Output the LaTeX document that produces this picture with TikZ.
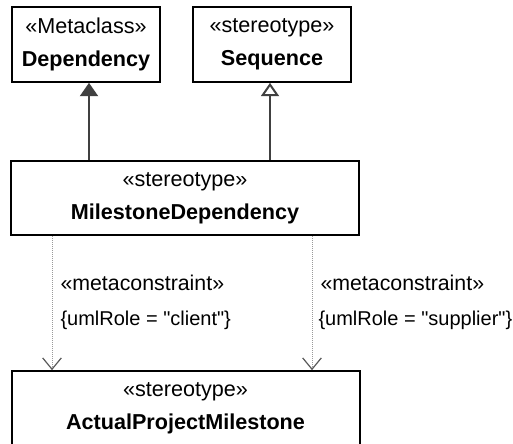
\documentclass[tikz,border=0pt]{standalone}
\usepackage{fontspec}
\setmainfont{Liberation Sans}
\usetikzlibrary{arrows.meta, positioning}

\begin{document}
\begin{tikzpicture}[
    x=0.75pt, y=-0.75pt,
    % Style definitions
    stereo/.style={rectangle, draw=black, line width=1.5pt, fill=white, inner sep=0pt,
                   minimum height=56pt, align=center, font=\fontsize{16.2}{24.75}\selectfont},
    ext/.style={draw=black!75, line width=1.5pt, -{Triangle[length=10pt, width=13.5pt]}},
    gen/.style={draw=black!75, line width=1.5pt, -{Triangle[open, length=10pt, width=13.5pt, fill=white]}},
    meta/.style={draw=black!40, line width=0.75pt, dash pattern=on 0.75pt off 0.75pt,
                 -{Straight Barb[length=8.5pt, width=14pt, line width=0.9pt, color=black!65]}},
    cstr/.style={anchor=west, inner sep=0pt, xshift=6pt, font=\fontsize{16}{18}\selectfont},
]
\useasboundingbox (0,0) rectangle (513,443);

% Classes
\node[stereo, minimum width=111pt] (dep) at (86,44.5) {«Metaclass»\\\textbf{Dependency}};
\node[stereo, minimum width=119pt] (seq) at (272,44.5) {«stereotype»\\\textbf{Sequence}};
\node[stereo, minimum width=261pt] (msd) at (185,198) {«stereotype»\\\textbf{MilestoneDependency}};
\node[stereo, minimum width=261pt] (apm) at (185.5,408.5) {«stereotype»\\\textbf{ActualProjectMilestone}};

% Arrows - extension and generalization
\coordinate (deptip) at ([xshift=2.25pt]dep.south);
\coordinate (seqtip) at ([xshift=-1.5pt]seq.south);
\draw[ext] (deptip |- msd.north) -- (deptip);
\draw[gen] (seqtip |- msd.north) -- (seqtip);

% Arrows - metaconstraints
\coordinate (client) at ([xshift=-99.75pt]msd.south);
\coordinate (supplier) at ([xshift=95.25pt]msd.south);
\draw[meta] (client) -- node[cstr, pos=0.35] {«metaconstraint»}
    node[cstr, pos=0.63, font=\fontsize{15}{18}\selectfont] {\{umlRole = \textquotedbl client\textquotedbl\}} (client |- apm.north);
\draw[meta] (supplier) -- node[cstr, pos=0.35] {«metaconstraint»}
    node[cstr, pos=0.63, xshift=-1.5pt, font=\fontsize{15}{18}\selectfont] {\{umlRole = \textquotedbl supplier\textquotedbl\}} (supplier |- apm.north);

\end{tikzpicture}
\end{document}
